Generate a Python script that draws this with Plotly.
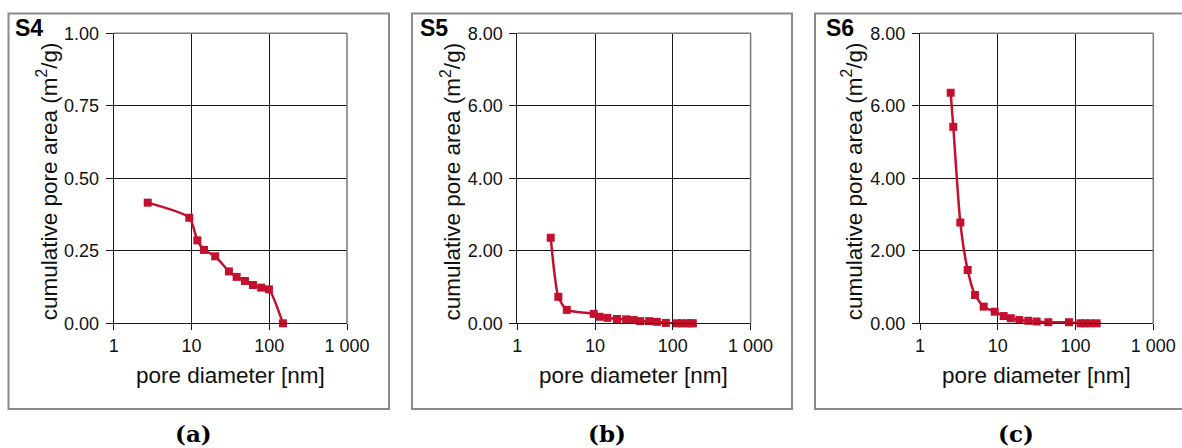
import plotly.graph_objects as go

# ---- data ----
s4_d = [2.74, 9.37, 11.9, 14.5, 20.2, 30.3, 38.1, 48.7, 61.7, 78.9, 99.1, 150]
s4_a = [0.416, 0.364, 0.286, 0.253, 0.231, 0.179, 0.160, 0.146, 0.132, 0.123, 0.117, 0.0]

s5_d = [2.69, 3.37, 4.33, 9.62, 11.4, 14.4, 19.1, 25.1, 31.2, 38.0, 49.6, 62.3, 81.4, 113, 131, 151, 171, 181]
s5_a = [2.36, 0.73, 0.37, 0.26, 0.18, 0.15, 0.12, 0.11, 0.09, 0.06, 0.06, 0.04, 0.01, 0.0, 0.0, 0.0, 0.0, 0.0]

s6_d = [2.48, 2.68, 3.30, 4.10, 5.10, 6.59, 9.12, 11.9, 14.7, 18.9, 24.7, 31.6, 44.7, 82.4, 116, 133, 153, 187]
s6_a = [6.36, 5.42, 2.78, 1.47, 0.78, 0.46, 0.32, 0.20, 0.14, 0.09, 0.07, 0.05, 0.03, 0.03, 0.0, 0.0, 0.0, 0.0]

sample_names = ["S4", "S5", "S6"]
panel_tags = ["(a)", "(b)", "(c)"]
y_max = [1.0, 8.0, 8.0]
y_step = [0.25, 2.0, 2.0]
x_tickvals = [1, 10, 100, 1000]
x_ticktext = ["1", "10", "100", "1 000"]

W, H = 1182, 448
RED = "#c4102f"
FONT = "Liberation Sans, Arial, sans-serif"

# layout geometry (pixels)
plot_left = [113.7, 517.3, 920.0]
plot_w = 233.3
plot_top, plot_bot = 33.3, 323.3
box_left = [8.5, 412.0, 815.0]
box_right = [389.0, 792.0, 1185.0]
box_top, box_bot = 13.5, 409.0
ytitle_x = [46.7, 450.0, 851.7]
name_x = [28.5, 434.0, 840.0]
tag_x = [193.0, 606.7, 1016.0]

def px(x):
    return x / W

def py(y):
    return 1 - y / H

fig = go.Figure()
data = [(s4_d, s4_a), (s5_d, s5_a), (s6_d, s6_a)]
shapes = []
annotations = []
for i, (d, a) in enumerate(data):
    n = "" if i == 0 else str(i + 1)
    fig.add_trace(go.Scatter(
        x=d, y=a, xaxis="x" + n, yaxis="y" + n, mode="lines+markers",
        line=dict(color=RED, width=2.5, shape="spline", smoothing=0.6),
        marker=dict(symbol="square", size=8, color=RED),
        cliponaxis=False, showlegend=False, hoverinfo="skip"))
    xa = dict(
        type="log", range=[0, 3], domain=[px(plot_left[i]), px(plot_left[i] + plot_w)],
        anchor="y" + n, tickvals=x_tickvals, ticktext=x_ticktext, automargin=False,
        showgrid=True, gridcolor="#1a1a1a", gridwidth=1,
        showline=True, linecolor="#1a1a1a", linewidth=1, mirror=False,
        ticks="outside", ticklen=6, tickcolor="#1a1a1a", tickwidth=1,
        tickfont=dict(family=FONT, size=18, color="#111"), zeroline=False,
    )
    ya = dict(
        range=[0, y_max[i]], domain=[py(plot_bot), py(plot_top)], automargin=False,
        anchor="x" + n, dtick=y_step[i], tick0=0, tickformat=".2f",
        showgrid=True, gridcolor="#1a1a1a", gridwidth=1,
        showline=True, linecolor="#1a1a1a", linewidth=1, mirror=False,
        ticks="outside", ticklen=7, tickcolor="#1a1a1a", tickwidth=1, ticklabelstandoff=3,
        tickfont=dict(family=FONT, size=18, color="#111"), zeroline=False,
    )
    fig.layout["xaxis" + n] = xa
    fig.layout["yaxis" + n] = ya
    # top/right plot-area border (gray)
    shapes.append(dict(type="line", xref="paper", yref="paper",
                       x0=px(plot_left[i]), x1=px(plot_left[i] + plot_w),
                       y0=py(plot_top), y1=py(plot_top), line=dict(color="#7a7a7a", width=1.5)))
    shapes.append(dict(type="line", xref="paper", yref="paper",
                       x0=px(plot_left[i] + plot_w), x1=px(plot_left[i] + plot_w),
                       y0=py(plot_top), y1=py(plot_bot), line=dict(color="#7a7a7a", width=1.5)))
    # outer box
    shapes.append(dict(type="rect", xref="paper", yref="paper",
                       x0=px(box_left[i]), x1=px(box_right[i]), y0=py(box_bot), y1=py(box_top),
                       line=dict(color="#8a8a8a", width=2), fillcolor="rgba(0,0,0,0)", layer="below"))
    annotations.append(dict(text=sample_names[i], xref="paper", yref="paper",
                            x=px(name_x[i]), y=py(28.5), xanchor="center", yanchor="middle",
                            showarrow=False, font=dict(family=FONT, size=23, color="#000", weight="bold")))
    annotations.append(dict(text="cumulative pore area (m<sup>2</sup>/g)", xref="paper", yref="paper",
                            x=px(ytitle_x[i]), y=py(181.5), xanchor="center", yanchor="middle",
                            textangle=-90, showarrow=False,
                            font=dict(family=FONT, size=22.5, color="#111")))
    annotations.append(dict(text="pore diameter [nm]", xref="paper", yref="paper",
                            x=px(plot_left[i] + plot_w / 2), y=py(375), xanchor="center", yanchor="middle",
                            showarrow=False, font=dict(family=FONT, size=22.5, color="#111")))
    annotations.append(dict(text="<b>" + panel_tags[i] + "</b>", xref="paper", yref="paper",
                            x=px(tag_x[i]), y=py(433), xanchor="center", yanchor="middle",
                            showarrow=False, font=dict(family="DejaVu Serif, serif", size=23, color="#000")))

fig.update_layout(template="none", width=W, height=H, margin=dict(l=0, r=0, t=0, b=0, pad=0, autoexpand=False),
                  paper_bgcolor="white", plot_bgcolor="white",
                  shapes=shapes, annotations=annotations)
fig.write_html("out.html")
